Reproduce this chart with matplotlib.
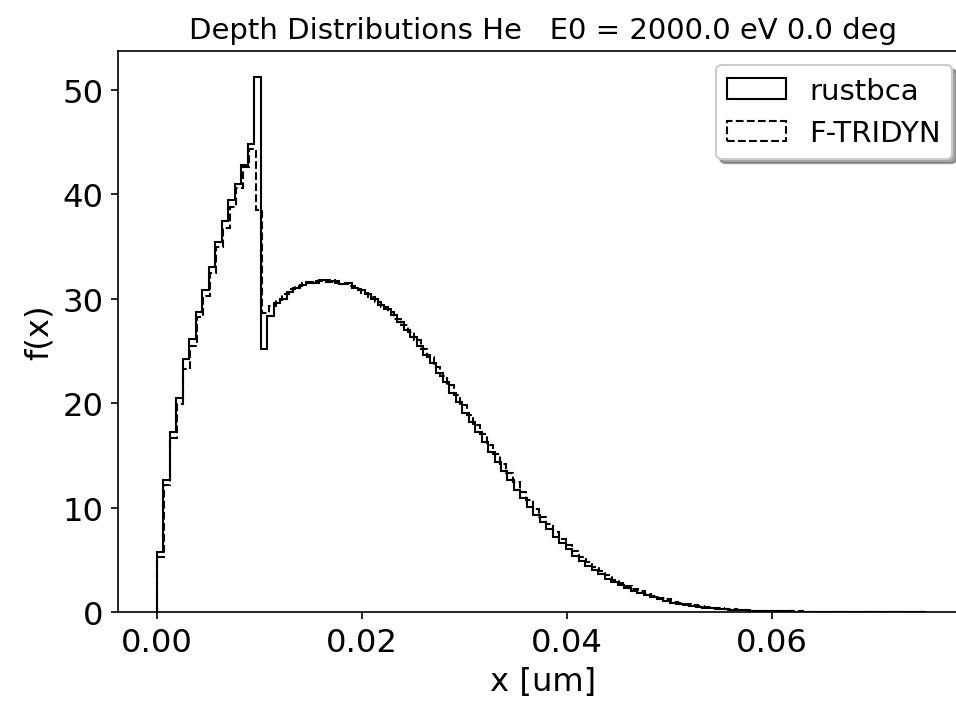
import numpy as np
import matplotlib
matplotlib.use("Agg")
import matplotlib.pyplot as plt

# bin layout (depth in um)
rust_bin_width = 0.000633
ftri_bin_width = 0.000643

# rustbca, density per bin
rustbca_f = [
    5.7, 12.6, 17.2, 20.5, 24.2, 26.1, 28.7, 30.8, 33.0, 35.4,
    37.4, 39.4, 41.0, 42.8, 44.8, 51.2, 25.2, 28.3, 29.6, 30.0,
    30.6, 31.0, 31.3, 31.6, 31.5, 31.8, 31.6, 31.7, 31.4, 31.5,
    31.0, 30.8, 30.4, 30.0, 29.4, 29.0, 28.4, 27.8, 27.0, 26.3,
    25.5, 24.6, 23.8, 22.9, 22.0, 21.0, 20.1, 19.1, 18.2, 17.2,
    16.3, 15.3, 14.4, 13.5, 12.6, 11.7, 10.9, 10.1, 9.3, 8.6,
    7.9, 7.2, 6.6, 6.0, 5.4, 4.9, 4.4, 4.0, 3.6, 3.2,
    2.9, 2.6, 2.3, 2.0, 1.8, 1.6, 1.4, 1.2, 1.05, 0.9,
    0.78, 0.67, 0.57, 0.48, 0.41, 0.35, 0.30, 0.25, 0.21, 0.18,
    0.15, 0.13, 0.11, 0.09, 0.08, 0.07, 0.06, 0.05, 0.04, 0.04,
    0.03, 0.03, 0.02, 0.02, 0.02, 0.01, 0.01, 0.01, 0.01, 0.01,
    0.01, 0.01, 0.0, 0.0, 0.01, 0.0, 0.0, 0.01,
]

# F-TRIDYN, density per bin
ftridyn_f = [
    5.3, 12.2, 16.7, 19.9, 23.3, 25.5, 28.2, 30.3, 32.5, 34.9,
    36.8, 38.8, 40.6, 42.6, 44.3, 38.5, 28.6, 29.3, 29.9, 30.4,
    30.9, 31.2, 31.5, 31.5, 31.7, 31.6, 31.8, 31.5, 31.4, 31.2,
    30.9, 30.5, 30.2, 29.7, 29.2, 28.7, 28.1, 27.5, 26.8, 26.0,
    25.2, 24.4, 23.5, 22.6, 21.7, 20.8, 19.8, 18.9, 17.9, 17.0,
    16.0, 15.1, 14.2, 13.3, 12.4, 11.5, 10.7, 9.9, 9.1, 8.4,
    7.7, 7.0, 6.4, 5.8, 5.3, 4.8, 4.3, 3.9, 3.5, 3.1,
    2.8, 2.5, 2.2, 2.0, 1.75, 1.55, 1.35, 1.2, 1.0, 0.88,
    0.76, 0.65, 0.55, 0.47, 0.40, 0.34, 0.29, 0.24, 0.20, 0.17,
    0.14, 0.12, 0.10, 0.09, 0.07, 0.06, 0.05, 0.05, 0.04, 0.03,
    0.03, 0.02, 0.02, 0.02, 0.01, 0.01, 0.01, 0.01, 0.01, 0.01,
    0.01, 0.0, 0.01, 0.0, 0.0, 0.01, 0.0,
]

title = "Depth Distributions He   E0 = 2000.0 eV 0.0 deg"

rust_edges = np.arange(len(rustbca_f) + 1) * rust_bin_width
ftri_edges = np.arange(len(ftridyn_f) + 1) * ftri_bin_width

fig = plt.figure(figsize=(956 / 150, 707 / 150), dpi=150)
ax = fig.add_axes([118.4 / 956, 94 / 707, 848.6 / 956, 561.5 / 707])

ax.hist(rust_edges[:-1], bins=rust_edges, weights=rustbca_f, histtype='step',
        color='black', linewidth=1.0, label='rustbca')
ax.hist(ftri_edges[:-1], bins=ftri_edges, weights=ftridyn_f, histtype='step',
        color='black', linewidth=1.0, linestyle='--', label='F-TRIDYN')

ax.set_xticks([0.0, 0.02, 0.04, 0.06])
ax.set_yticks([0, 10, 20, 30, 40, 50])
ax.tick_params(labelsize=15.5)
ax.set_xlabel("x [um]", fontsize=15.5)
ax.set_ylabel("f(x)", fontsize=15.5)
ax.set_title(title, fontsize=14)
ax.legend(loc='upper right', fontsize=14, shadow=True)

fig.savefig("out.png", dpi=150)
